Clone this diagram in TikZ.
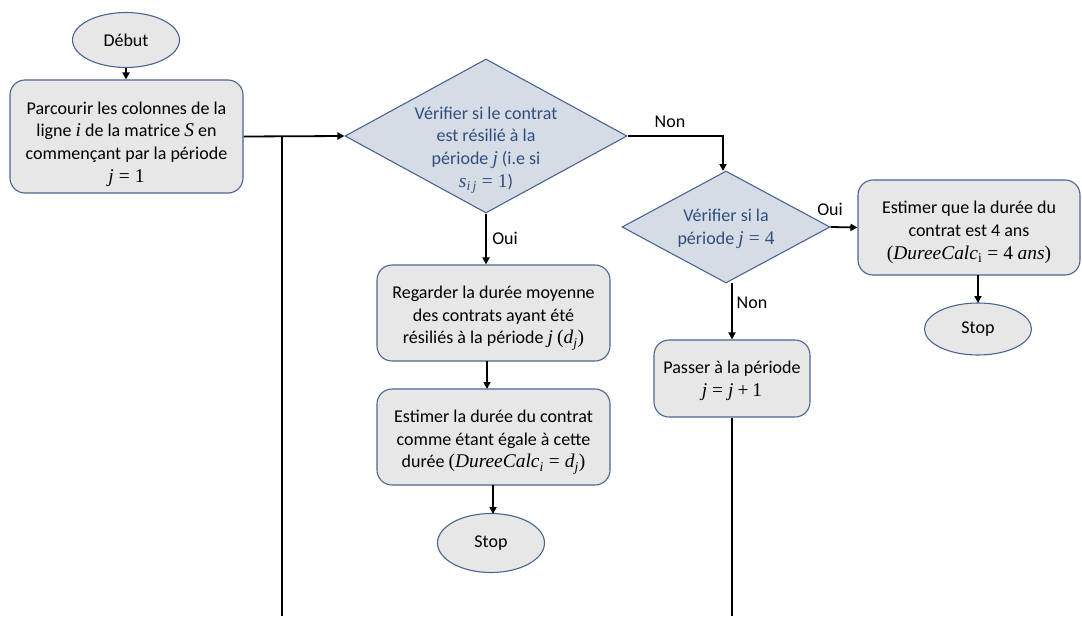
\documentclass[tikz,border=0pt]{standalone}
\usepackage{fontspec}
\setmainfont{Carlito}
\newfontfamily\mfont{Liberation Serif}[Scale=1.08]
\newcommand\mv[1]{{\mfont\itshape #1}}
\newcommand\mn[1]{{\mfont #1}}
\newcommand\mrel[1]{\hspace{0.28em}{\mfont #1}\hspace{0.28em}}
\newcommand\mbin[1]{\hspace{0.22em}{\mfont #1}\hspace{0.22em}}
\newcommand\msb[1]{\textsubscript{#1}}
\usetikzlibrary{shapes.geometric,arrows.meta}
\definecolor{boxfill}{HTML}{E7E7E7}
\definecolor{boxdraw}{HTML}{4A6591}
\definecolor{diafill}{HTML}{D6DCE5}
\definecolor{diatext}{HTML}{2F4E7E}
\tikzset{
  every node/.style={font=\fontsize{18}{22.7}\selectfont},
  procbox/.style={draw=boxdraw, fill=boxfill, rounded corners=15pt, line width=1.1pt, inner sep=0pt},
  boxtext/.style={align=center, inner sep=0pt},
  termnode/.style={ellipse, draw=boxdraw, fill=boxfill, line width=1.1pt, inner sep=0pt},
  decnode/.style={diamond, draw=boxdraw, fill=diafill, line width=1.1pt, inner sep=0pt},
  dectext/.style={align=center, text=diatext, inner sep=0pt},
  conn/.style={line width=1.8pt, -{Triangle[length=7pt,width=7pt]}},
  plainconn/.style={line width=1.8pt},
  lbl/.style={inner sep=0pt}
}
\begin{document}
\begin{tikzpicture}[x=1pt,y=-1pt]
\useasboundingbox (0,0) rectangle (1082,616);
% nodes
\node[termnode, minimum width=107pt, minimum height=55pt] (start) at (126,40) {Début};
\node[procbox, minimum width=233pt, minimum height=113pt] (b1) at (126.5,136.5) {};
\node[boxtext] (b1t) at (126.5,144)
  {Parcourir les colonnes de la\\ ligne \mv{i} de la matrice \mv{S} en\\ commençant par la période\\ \mv{j}\mrel{=}\mn{1}};
\node[decnode, minimum width=282pt, minimum height=154pt] (d1) at (486,136) {};
\node[dectext] (d1t) at (486,150) {Vérifier si le contrat\\ est résilié à la\\ période \mv{j} (i.e si\\ \mv{s}\msb{\mv{i\,j}}\mrel{=}\mn{1})};
\node[procbox, minimum width=233pt, minimum height=96pt] (b2) at (493.5,313) {};
\node[boxtext] (b2t) at (493.5,318)
  {Regarder la durée moyenne\\ des contrats ayant été\\ résiliés à la période \mv{j} \mn{(}\mv{d}\msb{\mv{j}}\mn{)}};
\node[procbox, minimum width=233pt, minimum height=96pt] (b5) at (493.5,437) {};
\node[boxtext] (b5t) at (493.5,442)
  {Estimer la durée du contrat\\ comme étant égale à cette\\ durée \mn{(}\mv{DureeCalc}\msb{\mv{i}}\mrel{=}\mv{d}\msb{\mv{j}}\mn{)}};
\node[termnode, minimum width=107pt, minimum height=59pt] (stop1) at (491,543) {Stop};
\node[decnode, minimum width=208pt, minimum height=112pt] (d2) at (726,227) {};
\node[dectext] (d2t) at (726,229) {Vérifier si la\\ période \mv{j}\mrel{=}\mn{4}};
\node[procbox, minimum width=222pt, minimum height=95pt] (b3) at (969,227.5) {};
\node[boxtext] (b3t) at (969,232.5)
  {Estimer que la durée du\\ contrat est 4 ans\\ \mn{(}\mv{DureeCalc}\msb{\mn{i}}\mrel{=}\mn{4}\hspace{0.25em}\mv{ans}\mn{)}};
\node[termnode, minimum width=107pt, minimum height=52pt] (stop2) at (978,329) {Stop};
\node[procbox, minimum width=156pt, minimum height=77pt] (b4) at (732,378.5) {};
\node[boxtext] (b4t) at (732,380.5)
  {Passer à la période\\ \mv{j}\mrel{=}\mv{j}\mbin{+}\mn{1}};
% loop coordinates
\coordinate (jA) at (282,136);
\coordinate (endA) at (282,616);
\coordinate (endB) at (732,616);
% connectors
\draw[conn] (start.south) -- (start.south |- b1.north);
\draw[conn] (b1.east) -- (d1.west);
\draw[plainconn] (jA) -- (endA);
\draw[conn] (d1.east) -| (723,171);
\draw[conn] (d1.south) -- (d1.south |- b2.north);
\draw[conn] (487,361) -- (487,389);
\draw[conn] (493,485) -- (493,514);
\draw[conn] (d2.east) -- (b3.west);
\draw[conn] (978,275) -- (978,303);
\draw[conn] (732,283) -- (b4.north);
\draw[plainconn] (b4.south) -- (endB);
% labels
\node[lbl] (lnon1) at (670,122) {Non};
\node[lbl] (loui1) at (505,238) {Oui};
\node[lbl] (loui2) at (830,209) {Oui};
\node[lbl] (lnon2) at (752,303) {Non};
\end{tikzpicture}
\end{document}
